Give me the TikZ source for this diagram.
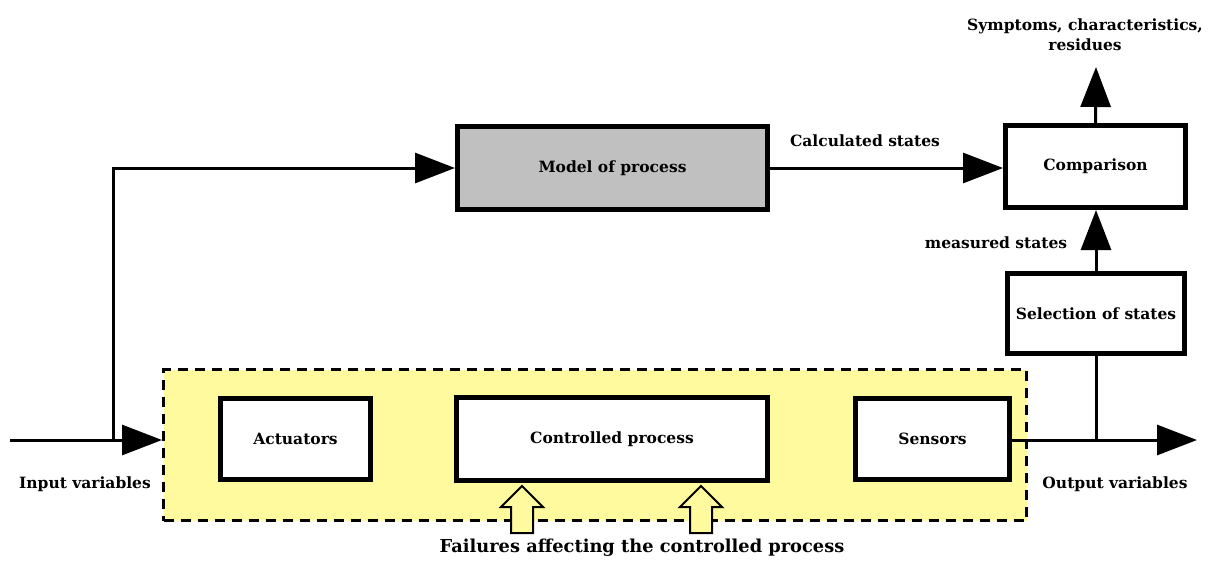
\documentclass[tikz,border=0pt]{standalone}
\usepackage{fontspec}
\setmainfont{DejaVu Serif}
\usetikzlibrary{arrows.meta}
\definecolor{procyellow}{RGB}{255,250,158}
\definecolor{modelgray}{RGB}{192,192,192}
\tikzset{
  blk/.style={draw, line width=5pt, fill=white, inner sep=0pt, font=\bfseries\fontsize{15.5}{18}\selectfont},
  conn/.style={line width=3pt, -{Triangle[length=40pt,width=30pt]}},
  plain/.style={line width=3pt},
  lbl/.style={font=\bfseries\fontsize{15.5}{20}\selectfont, inner sep=0pt, align=center},
  hollow/.style={draw=black, line width=2pt, fill=procyellow, line join=miter}
}
\begin{document}
\begin{tikzpicture}[x=1pt,y=-1pt]
\useasboundingbox (0,0) rectangle (1212,560);
% process group
\node[draw, dashed, dash pattern=on 10pt off 7pt, line width=3pt, fill=procyellow, minimum width=863pt, minimum height=151pt, inner sep=0pt] (proc) at (595,445) {};
% blocks
\node[blk, fill=modelgray, minimum width=310pt, minimum height=83pt] (model) at (612.5,168) {Model of process};
\node[blk, minimum width=180pt, minimum height=82pt] (comp) at (1095.5,166.5) {Comparison};
\node[blk, minimum width=177pt, minimum height=80pt] (sel) at (1096,313.5) {Selection of states};
\node[blk, minimum width=150pt, minimum height=81pt] (act) at (295.5,439) {Actuators};
\node[blk, minimum width=311pt, minimum height=83pt] (ctrl) at (612,439) {\raisebox{-3pt}{Controlled process}};
\node[blk, minimum width=154pt, minimum height=81pt] (sens) at (932.5,439) {Sensors};
% coordinates
\coordinate (in) at (10,440);
\coordinate (br) at (113,440);
\coordinate (out) at (1197,440);
\coordinate (obr) at (1096,440);
\coordinate (sym) at (1096,67);
% connectors
\draw[conn] (in) -- (proc.west |- in);
\draw[conn] (br) |- (model.west);
\draw[conn] (model.east) -- (comp.west |- model.east);
\draw[conn] (comp.north) -- (sym);
\draw[conn] (sel.north) -- (comp.south -| sel.north);
\draw[conn] (sens.east |- out) -- (out);
\draw[plain] (obr) -- (sel.south);
% hollow arrows
\foreach \cx in {522, 701}{
  \draw[hollow] (\cx,486) -- (\cx+21,507) -- (\cx+11,507) -- (\cx+11,533) -- (\cx-11,533) -- (\cx-11,507) -- (\cx-21,507) -- cycle;
}
% labels
\node[lbl] (lin) at (85,484) {Input variables};
\node[lbl] (lout) at (1115,484) {Output variables};
\node[lbl] (lcalc) at (865,141) {Calculated states};
\node[lbl] (lmeas) at (996,243) {measured states};
\node[lbl] (lsym) at (1085,35) {Symptoms, characteristics,\\residues};
\node[lbl, font=\bfseries\fontsize{17.8}{20}\selectfont] (lfail) at (642,548) {Failures affecting the controlled process};
\end{tikzpicture}
\end{document}
